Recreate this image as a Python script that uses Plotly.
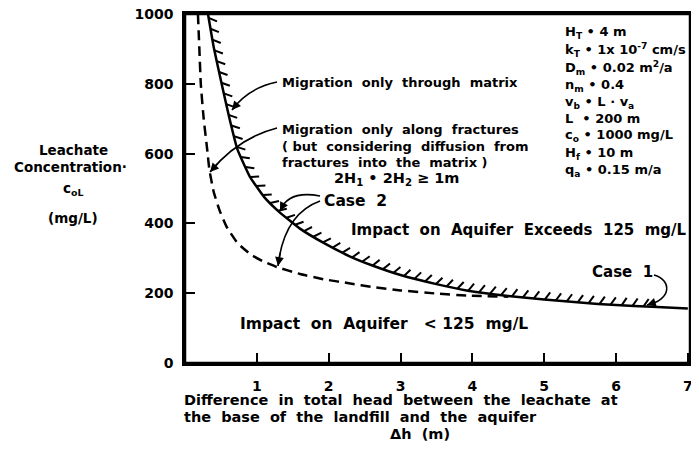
import numpy as np
import plotly.graph_objects as go

# ---- data ----
solid_dh = [0.32, 0.40, 0.51, 0.62, 0.73, 0.90, 1.10, 1.31, 1.60, 1.93, 2.30, 2.60, 3.00, 3.50, 3.92, 4.50, 5.00, 5.50, 6.00, 6.50, 7.00]
solid_c = [1000, 905, 800, 700, 612, 535, 476, 433, 385, 344, 305, 280, 252, 226, 208, 192, 182, 173, 166, 161, 156]

dash_dh = [0.18, 0.20, 0.22, 0.26, 0.31, 0.34, 0.40, 0.48, 0.58, 0.73, 0.92, 1.10, 1.28, 1.60, 1.93, 2.30, 2.60, 3.00, 3.50, 3.92, 4.50]
dash_c = [1000, 900, 800, 700, 610, 553, 490, 438, 390, 344, 310, 290, 275, 255, 240, 228, 218, 208, 199, 193, 190]

x_ticks = [1, 2, 3, 4, 5, 6, 7]
y_ticks = [0, 200, 400, 600, 800, 1000]

params = [
    "H<sub>T</sub> • 4 m",
    "k<sub>T</sub> • 1x 10<sup>-7</sup> cm/s",
    "D<sub>m</sub> • 0.02 m<sup>2</sup>/a",
    "n<sub>m</sub> • 0.4",
    "v<sub>b</sub> • L · v<sub>a</sub>",
    "L  • 200 m",
    "c<sub>o</sub> • 1000 mg/L",
    "H<sub>f</sub> • 10 m",
    "q<sub>a</sub> • 0.15 m/a",
]

# ---- geometry (screen pixels; page body adds an 8px margin all round) ----
OFF = 8
SW, SH = 699, 455
PL, PR, PT, PB = 185, 690, 14, 363   # plot area in screen pixels
W, H = SW - 2 * OFF, SH - 2 * OFF
X0, X1 = 0, 7.03
Y0, Y1 = 0, 1000
pw = PR - PL
ph = PB - PT
sx = pw / (X1 - X0)
sy = ph / (Y1 - Y0)


def px2x(px):
    return X0 + (px - PL) / sx


def py2y(py):
    return Y0 + (PB - py) / sy


FONT = "DejaVu Sans"

fig = go.Figure()

fig.add_trace(go.Scatter(x=solid_dh, y=solid_c, mode="lines",
                         line=dict(color="black", width=2.5, shape="spline", smoothing=0.4),
                         showlegend=False, hoverinfo="skip"))
fig.add_trace(go.Scatter(x=dash_dh, y=dash_c, mode="lines",
                         line=dict(color="black", width=2.5, dash="10px,6px", shape="spline", smoothing=0.4),
                         showlegend=False, hoverinfo="skip"))

# ---- hatches along the solid curve (derived from the solid data) ----
xs = np.array(solid_dh) * sx
ys = np.array(solid_c) * sy
seg = np.hypot(np.diff(xs), np.diff(ys))
s = np.concatenate([[0], np.cumsum(seg)])
spacing = 11.0
hl = 9.0
theta = np.radians(32)
hx, hy = [], []
pos = 4.0
end_x = 6.45 * sx
while pos < s[-1]:
    i = np.searchsorted(s, pos) - 1
    i = max(0, min(i, len(seg) - 1))
    f = (pos - s[i]) / seg[i]
    bx = xs[i] + f * (xs[i + 1] - xs[i])
    by = ys[i] + f * (ys[i + 1] - ys[i])
    if bx > end_x:
        break
    tx = (xs[i + 1] - xs[i]) / seg[i]
    ty = (ys[i + 1] - ys[i]) / seg[i]
    nx, ny = -ty, tx
    dx = np.cos(theta) * nx + np.sin(theta) * tx
    dy = np.cos(theta) * ny + np.sin(theta) * ty
    ex, ey = bx + hl * dx, by + hl * dy
    if ey / sy <= Y1:
        hx += [bx / sx, ex / sx, None]
        hy += [by / sy, ey / sy, None]
    pos += spacing

fig.add_trace(go.Scatter(x=hx, y=hy, mode="lines",
                         line=dict(color="black", width=2),
                         showlegend=False, hoverinfo="skip"))

annotations = []
shapes = []


def text(px, py, s, size=12, xanchor="left", yanchor="middle"):
    annotations.append(dict(x=px2x(px), y=py2y(py), xref="x", yref="y", text=s,
                            showarrow=False, xanchor=xanchor, yanchor=yanchor,
                            font=dict(family=FONT, size=size, color="black", weight="bold")))


def ptext(px, py, s, size=12, xanchor="center"):
    annotations.append(dict(x=(px - PL) / pw, y=(PB - py) / ph, xref="paper", yref="paper", text=s,
                            showarrow=False, xanchor=xanchor, yanchor="middle",
                            font=dict(family=FONT, size=size, color="black", weight="bold")))


def add_head(p1, q):
    annotations.append(dict(x=px2x(p1[0]), y=py2y(p1[1]), ax=px2x(q[0]), ay=py2y(q[1]),
                            xref="x", yref="y", axref="x", ayref="y", text="",
                            showarrow=True, arrowhead=2, arrowsize=1.1, arrowwidth=1.6,
                            arrowcolor="black", standoff=0))


def curved_arrow(p0, c, p1):
    path = "M {},{} Q {},{} {},{}".format(px2x(p0[0]), py2y(p0[1]), px2x(c[0]), py2y(c[1]),
                                           px2x(p1[0]), py2y(p1[1]))
    shapes.append(dict(type="path", path=path, xref="x", yref="y",
                       line=dict(color="black", width=1.6)))
    t = 0.85
    qx = (1 - t) ** 2 * p0[0] + 2 * (1 - t) * t * c[0] + t ** 2 * p1[0]
    qy = (1 - t) ** 2 * p0[1] + 2 * (1 - t) * t * c[1] + t ** 2 * p1[1]
    add_head(p1, (qx, qy))


def cubic_arrow(p0, c1, c2, p1):
    path = "M {},{} C {},{} {},{} {},{}".format(px2x(p0[0]), py2y(p0[1]), px2x(c1[0]), py2y(c1[1]),
                                                 px2x(c2[0]), py2y(c2[1]), px2x(p1[0]), py2y(p1[1]))
    shapes.append(dict(type="path", path=path, xref="x", yref="y",
                       line=dict(color="black", width=1.6)))
    t = 0.85
    qx = (1 - t) ** 3 * p0[0] + 3 * (1 - t) ** 2 * t * c1[0] + 3 * (1 - t) * t ** 2 * c2[0] + t ** 3 * p1[0]
    qy = (1 - t) ** 3 * p0[1] + 3 * (1 - t) ** 2 * t * c1[1] + 3 * (1 - t) * t ** 2 * c2[1] + t ** 3 * p1[1]
    add_head(p1, (qx, qy))


# texts inside plot
text(280, 82, "Migration  only  through  matrix", 13)
text(280, 129, "Migration  only  along  fractures", 13)
text(280, 146, "( but  considering  diffusion  from", 13)
text(280, 162, "fractures  into  the  matrix )", 13)
text(396, 179, "2H<sub>1</sub> • 2H<sub>2</sub> ≥ 1m", 14.5, xanchor="center")
text(322, 201, "Case  2", 15.5)
text(349, 230, "Impact  on  Aquifer  Exceeds  125  mg/L", 15)
text(238, 324, "Impact  on  Aquifer   < 125  mg/L", 15.5)
text(590, 272, "Case  1", 15)

# parameter block
param_y = [32, 50, 68, 85, 102, 119, 136, 153, 170]
for yy, s_ in zip(param_y, params):
    ptext(563, yy, s_, 13, xanchor="left")

# left y labels
ptext(73, 150, "Leachate", 13.5)
ptext(70, 167, "Concentration·", 13.5)
ptext(73, 189, "c<sub>oL</sub>", 13.5)
ptext(73, 218, "(mg/L)", 13.5)

# x title
ptext(182, 400, "Difference  in  total  head  between  the  leachate  at", 14.5, xanchor="left")
ptext(182, 417, "the  base  of  the  landfill  and  the  aquifer", 14.5, xanchor="left")
ptext(420, 434, "Δh  (m)", 14.5)

# arrows
curved_arrow((277, 82), (248, 88), (232, 110))
curved_arrow((277, 128), (238, 138), (210, 172))
curved_arrow((320, 196), (288, 190), (280, 211))
curved_arrow((320, 201), (284, 214), (278, 266))
cubic_arrow((654, 275), (672, 280), (672, 300), (647, 305))

# frame
shapes.append(dict(type="rect", xref="paper", yref="paper", x0=0, x1=1, y0=0, y1=1,
                   line=dict(color="black", width=2.5), layer="above"))

axis_common = dict(showgrid=False, zeroline=False, showline=True, linecolor="black", linewidth=2.5,
                   mirror=True, ticks="inside", ticklen=10, tickwidth=2, tickcolor="black",
                   ticklabeloverflow="allow",
                   tickfont=dict(family=FONT, size=14, color="black", weight="bold"))

fig.update_layout(
    width=W, height=H,
    margin=dict(l=PL - OFF, r=max(0, W - (PR - OFF)), t=PT - OFF, b=H - (PB - OFF), autoexpand=False),
    paper_bgcolor="white", plot_bgcolor="white",
    xaxis=dict(range=[X0, X1], tickvals=x_ticks, ticklabelstandoff=8, **axis_common),
    yaxis=dict(range=[Y0, Y1], tickvals=y_ticks, ticklabelstandoff=6, **axis_common),
    annotations=annotations,
    shapes=shapes,
    showlegend=False,
)

fig.write_html("out.html")
